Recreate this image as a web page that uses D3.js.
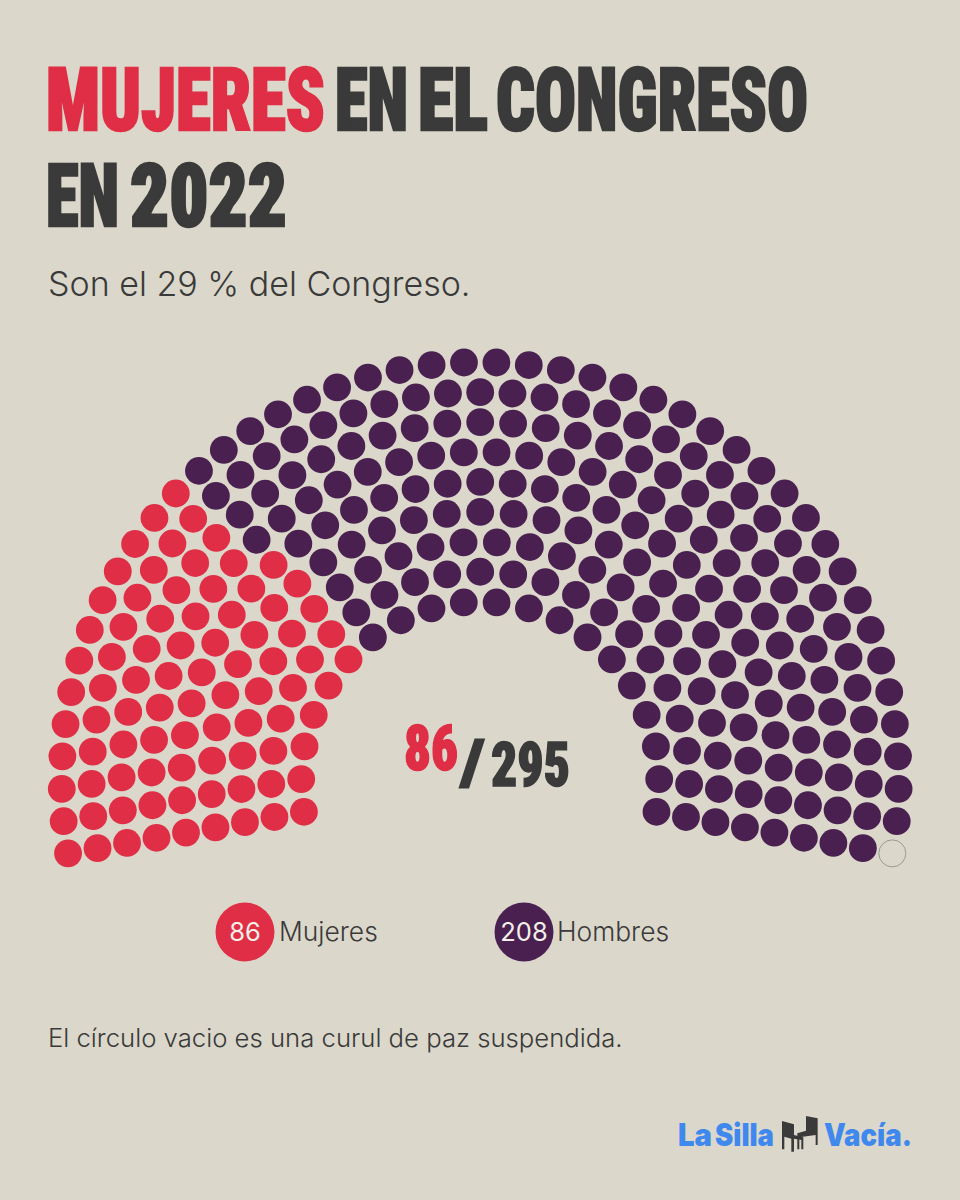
<!DOCTYPE html>
<html><head><meta charset="utf-8">
<script src="https://cdn.jsdelivr.net/npm/d3@7"></script>
<style>html,body{margin:0;padding:0;background:#dbd8cb}svg{display:block}</style></head>
<body><svg id="c" width="960" height="1200"></svg>
<script>
const rowSeats=[20,23,26,29,33,36,39,43,46];
const groupNames=["Mujeres","Hombres","Curul suspendida"];
const groupSeats=[86,208,1];
const groupColors=["#df2e45","#4a2050","none"];
const svg=d3.select("#c");
svg.append("rect").attr("width",960).attr("height",1200).attr("fill","#dbd8cb");
const cx=480.2,cy=780.7;
const rScale=d3.scaleLinear().domain([0,8]).range([179,418.5]);
const aScale=d3.scaleLinear().domain([0,1]).range([190,-10]);
let seats=[];
rowSeats.forEach((n,r)=>d3.range(n).forEach(i=>seats.push({r,t:i/(n-1)})));
seats.sort((a,b)=>d3.ascending(a.t,b.t)||d3.ascending(a.r,b.r));
let k=0;
groupSeats.forEach((n,g)=>{for(let i=0;i<n;i++)seats[k++].g=g;});
svg.append("g").selectAll("circle").data(seats).join("circle")
 .attr("cx",d=>cx+rScale(d.r)*Math.cos(aScale(d.t)*Math.PI/180))
 .attr("cy",d=>cy-rScale(d.r)*Math.sin(aScale(d.t)*Math.PI/180))
 .attr("r",d=>d.g==2?13.5:13.9)
 .attr("fill",d=>groupColors[d.g])
 .attr("stroke",d=>d.g==2?"#9a9a92":"none").attr("stroke-width",1);
const DARK="#3a3a3a",RED=groupColors[0];
const T="Roboto,'Liberation Sans Narrow',sans-serif";
function fit(str,x0,x1,y,size,color,sw){
 const t=svg.append("text").attr("font-family",T).attr("font-weight",900).attr("font-size",size)
  .style("font-stretch","75%").attr("fill",color).attr("stroke",color).attr("stroke-width",sw).attr("stroke-linejoin","miter").text(str);
 const w=t.node().getComputedTextLength();
 t.attr("transform",`translate(${x0},${y}) scale(${(x1-x0)/w},1)`);
}
const S1=87,W1=2.6;
fit("MUJERES",46,325,129.5,S1,RED,W1);
fit("EN",335,408,129.5,S1,DARK,W1);
fit("EL",418,488,129.5,S1,DARK,W1);
fit("CONGRESO",496,808,129.5,S1,DARK,W1);
fit("EN",46,119,225.5,S1,DARK,W1);
fit("2022",130,287,225.5,S1,DARK,W1);
fit("86",404,458,770,62,RED,1.5);
fit("/",460,485,784,63,DARK,1.2);
fit("295",491,570,786,62,DARK,1.5);
const B="Inter,'Open Sans',sans-serif";
const body=(x,y,size,wt,fill,str,anchor)=>svg.append("text").attr("x",x).attr("y",y).attr("text-anchor",anchor||"start").attr("font-family",B).attr("font-size",size).attr("font-weight",wt).attr("fill",fill).text(str);
body(48,296,34,300,DARK,"Son el 29 % del Congreso.");
[[245,0,279],[524,1,557]].forEach(([x,g,tx])=>{
 svg.append("circle").attr("cx",x).attr("cy",932).attr("r",29.5).attr("fill",groupColors[g]);
 body(x,941,25.5,400,"#f3f0e8",groupSeats[g],"middle");
 body(tx,941,26.4,300,DARK,groupNames[g]);
});
body(48,1047,25.7,300,DARK,"El círculo vacio es una curul de paz suspendida.");
const BLUE="#3f88ee";
function logo(str,x0,x1){
 const t=svg.append("text").attr("font-family",B).attr("font-weight",900).attr("font-size",31).attr("fill",BLUE).text(str);
 const w=t.node().getComputedTextLength();
 t.attr("transform",`translate(${x0},1146) scale(${(x1-x0)/w},1)`);
}
logo("La",678,712);
logo("Silla",715,774);
logo("Vacía.",824,912);
const chairs=svg.append("g").attr("transform","translate(660,1100) scale(0.3333)").attr("fill",DARK);
["M366,63L402,73L402,105L430,112L430,148L424,148L424,120L402,116L402,155L394,155L394,116L373,110L373,148L366,148Z",
 "M438,48L473,55L473,135L467,135L467,105L418,112L418,148L412,148L412,100L438,92Z"]
 .forEach(d=>chairs.append("path").attr("d",d));
</script></body></html>
